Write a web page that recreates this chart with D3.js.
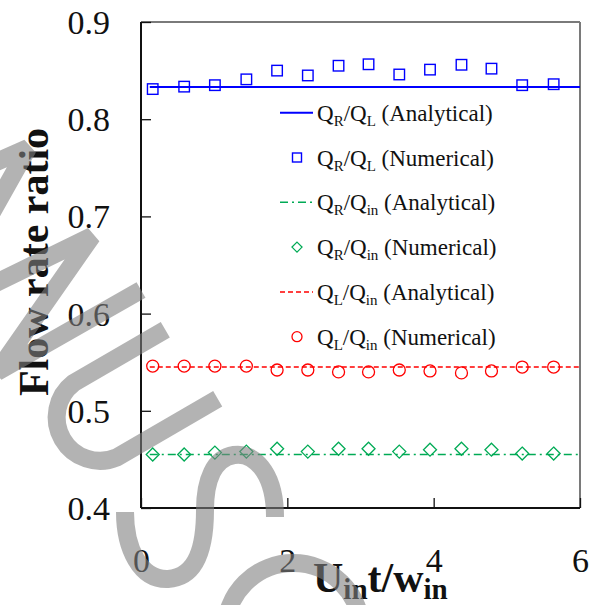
<!DOCTYPE html>
<html>
<head>
<meta charset="utf-8">
<script src="https://cdn.jsdelivr.net/npm/d3@7"></script>
<style>
  html, body { margin: 0; padding: 0; background: #fff; }
  svg { display: block; }
  svg text { font-family: "Liberation Serif", "Times New Roman", Times, "DejaVu Serif", serif !important; }
</style>
</head>
<body>
<svg id="chart" width="599" height="605"></svg>
<script>
// ---- data ----
const xValues = [0.16, 0.59, 1.01, 1.44, 1.86, 2.28, 2.70, 3.11, 3.53, 3.95, 4.38, 4.79, 5.21, 5.64];
const qrQlNumerical  = [0.831, 0.8335, 0.835, 0.841, 0.850, 0.845, 0.855, 0.8565, 0.846, 0.851, 0.856, 0.852, 0.835, 0.836];
const qrQinNumerical = [0.455, 0.455, 0.457, 0.458, 0.461, 0.458, 0.461, 0.461, 0.458, 0.460, 0.461, 0.460, 0.456, 0.456];
const qlQinNumerical = [0.546, 0.546, 0.546, 0.546, 0.542, 0.542, 0.540, 0.540, 0.542, 0.541, 0.539, 0.541, 0.545, 0.545];
const qrQlAnalytical  = 0.833;
const qrQinAnalytical = 0.455;
const qlQinAnalytical = 0.545;
const analyticalX = [0.12, 6];
const xTicks = [0, 2, 4, 6];
const yTicks = [0.4, 0.5, 0.6, 0.7, 0.8, 0.9];

const FONT = '"Liberation Serif", "Times New Roman", Times, serif';
const svg = d3.select("#chart").attr("font-family", FONT);
const m = { left: 141, right: 580, top: 22, bottom: 508 };
const x = d3.scaleLinear().domain([0, 6]).range([m.left, m.right]);
const y = d3.scaleLinear().domain([0.4, 0.9]).range([m.bottom, m.top]);

const BLUE = "#0000ff", RED = "#ff0000", GREEN = "#00aa55";

// ---- frame ----
svg.append("line").attr("x1", m.left).attr("x2", m.right).attr("y1", m.top).attr("y2", m.top)
  .attr("stroke", "#7a7a7a").attr("stroke-width", 2);
svg.append("line").attr("x1", m.right).attr("x2", m.right).attr("y1", m.top).attr("y2", m.bottom)
  .attr("stroke", "#7a7a7a").attr("stroke-width", 2);

// ---- axes (inward ticks) ----
const yAxis = d3.axisLeft(y).tickValues(yTicks).tickSize(-10).tickFormat(d3.format(".1f")).tickPadding(31);
const xAxis = d3.axisBottom(x).tickValues(xTicks).tickSize(-10).tickFormat(d3.format("d")).tickPadding(40);

const gy = svg.append("g").attr("transform", `translate(${m.left},0)`).call(yAxis);
const gx = svg.append("g").attr("transform", `translate(0,${m.bottom})`).call(xAxis);
[gy, gx].forEach(g => {
  g.attr("font-family", FONT).attr("font-size", 34);
  g.select(".domain").attr("stroke", "#111").attr("stroke-width", 2);
  g.selectAll(".tick line").attr("stroke", "#111").attr("stroke-width", 1.3);
  g.selectAll(".tick text").style("font-family", FONT).style("font-size", "34px").attr("fill", "#111");
});
gy.select(".domain").attr("d", `M0,${m.bottom}V${m.top}`);
gx.select(".domain").attr("d", `M${m.left},0H${m.right}`);
gy.selectAll(".tick text").attr("dy", "0.34em");

// ---- analytical lines ----
const line = d3.line().x(d => x(d[0])).y(d => y(d[1]));
function analytical(val, color, dash, width) {
  svg.append("path").datum(analyticalX.map(v => [v, val])).attr("d", line)
    .attr("fill", "none").attr("stroke", color).attr("stroke-width", width)
    .attr("stroke-dasharray", dash);
}
analytical(qrQlAnalytical, BLUE, null, 2);
analytical(qrQinAnalytical, GREEN, "8,4,2,4", 1.5);
analytical(qlQinAnalytical, RED, "5,3", 1.5);

// ---- numerical markers ----
const sq = 10.5, dia = 6.5, rad = 6;
svg.append("g").selectAll("rect").data(xValues.map((v, i) => [v, qrQlNumerical[i]])).join("rect")
  .attr("x", d => x(d[0]) - sq / 2).attr("y", d => y(d[1]) - sq / 2)
  .attr("width", sq).attr("height", sq)
  .attr("fill", "none").attr("stroke", BLUE).attr("stroke-width", 1.4);
svg.append("g").selectAll("path").data(xValues.map((v, i) => [v, qrQinNumerical[i]])).join("path")
  .attr("d", d => { const cx = x(d[0]), cy = y(d[1]);
    return `M${cx},${cy - dia}L${cx + dia},${cy}L${cx},${cy + dia}L${cx - dia},${cy}Z`; })
  .attr("fill", "none").attr("stroke", GREEN).attr("stroke-width", 1.3);
svg.append("g").selectAll("circle").data(xValues.map((v, i) => [v, qlQinNumerical[i]])).join("circle")
  .attr("cx", d => x(d[0])).attr("cy", d => y(d[1])).attr("r", rad)
  .attr("fill", "none").attr("stroke", RED).attr("stroke-width", 1.3);

// ---- legend ----
const legendItems = [
  { num: "R", den: "L", kind: "Analytical", type: "line", color: BLUE, dash: null, w: 2 },
  { num: "R", den: "L", kind: "Numerical", type: "square", color: BLUE },
  { num: "R", den: "in", kind: "Analytical", type: "line", color: GREEN, dash: "8,4,2,4", w: 1.5 },
  { num: "R", den: "in", kind: "Numerical", type: "diamond", color: GREEN },
  { num: "L", den: "in", kind: "Analytical", type: "line", color: RED, dash: "5,3", w: 1.5 },
  { num: "L", den: "in", kind: "Numerical", type: "circle", color: RED }
];
const lg = svg.append("g");
legendItems.forEach((it, i) => {
  const cy = 112.7 + i * 44.8;
  if (it.type === "line") {
    lg.append("line").attr("x1", 280).attr("x2", 313).attr("y1", cy).attr("y2", cy)
      .attr("stroke", it.color).attr("stroke-width", it.w).attr("stroke-dasharray", it.dash);
  } else if (it.type === "square") {
    lg.append("rect").attr("x", 297 - 4.5).attr("y", cy - 4.5).attr("width", 9).attr("height", 9)
      .attr("fill", "none").attr("stroke", it.color).attr("stroke-width", 1.4);
  } else if (it.type === "diamond") {
    const d = 5;
    lg.append("path").attr("d", `M297,${cy - d}L${297 + d},${cy}L297,${cy + d}L${297 - d},${cy}Z`)
      .attr("fill", "none").attr("stroke", it.color).attr("stroke-width", 1.3);
  } else {
    lg.append("circle").attr("cx", 297).attr("cy", cy).attr("r", 5)
      .attr("fill", "none").attr("stroke", it.color).attr("stroke-width", 1.3);
  }
  const t = lg.append("text").attr("x", 317).attr("y", cy + 8).attr("font-size", 23).attr("fill", "#111");
  t.append("tspan").text("Q");
  t.append("tspan").attr("font-size", 15).attr("dy", 5).text(it.num);
  t.append("tspan").attr("dy", -5).text("/Q");
  t.append("tspan").attr("font-size", 15).attr("dy", 5).text(it.den);
  t.append("tspan").attr("dy", -5).text(" (" + it.kind + ")");
});

// ---- axis titles ----
svg.append("text").attr("transform", "translate(48,262) rotate(-90)")
  .attr("text-anchor", "middle").attr("font-size", 42).attr("font-weight", "bold").attr("fill", "#111")
  .text("Flow rate ratio");
const xt = svg.append("text").attr("x", 313).attr("y", 592)
  .attr("font-size", 42).attr("font-weight", "bold").attr("fill", "#111");
xt.append("tspan").text("U");
xt.append("tspan").attr("font-size", 29).attr("dy", 7).text("in");
xt.append("tspan").attr("dy", -7).text("t/w");
xt.append("tspan").attr("font-size", 29).attr("dy", 7).text("in");

// ---- watermark strokes (decorative overlay in the reference) ----
const wm = svg.append("g").attr("fill", "none").attr("stroke", "#808080")
  .attr("stroke-opacity", 0.6).attr("stroke-width", 18)
  .attr("stroke-linejoin", "miter").attr("stroke-miterlimit", 2.2)
  .attr("pointer-events", "none");
wm.append("path").attr("d", "M-8,164 L28,148 L-8,212");
wm.append("path").attr("d", "M-10,286 L92,236 L-3,372 L141,290");
wm.append("path").attr("d", "M165.3,329.7 L73.6,383 A43.4,43.4 0 0 0 116.9,457.4 L217.7,398.8");
wm.append("path").attr("d", "M275,517 C275,470 252,452 234,455 C214,458 205,480 205,510 C205,545 198,577 168,579 C140,580 125,548 125,512");
wm.append("path").attr("d", "M225.3,631 A68,68 0 0 1 361.3,631");
</script>
</body>
</html>
